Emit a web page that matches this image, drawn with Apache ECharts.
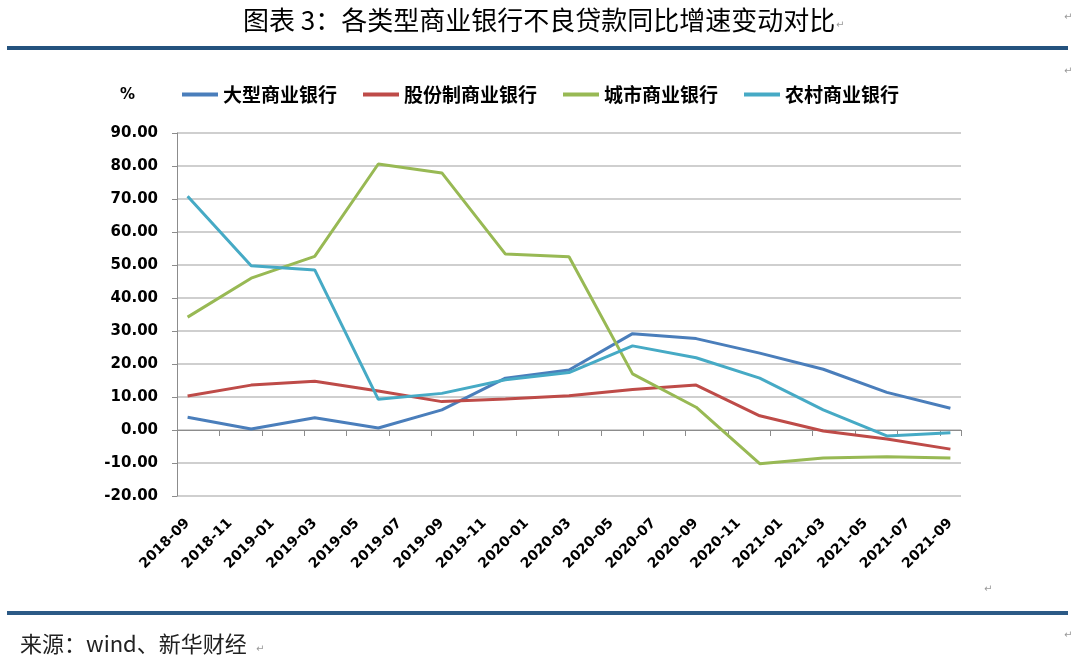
<!DOCTYPE html>
<html>
<head>
<meta charset="utf-8">
<script src="https://cdn.jsdelivr.net/npm/echarts@6/dist/echarts.min.js"></script>
<style>
html,body{margin:0;padding:0;background:#fff;}
#chart{width:1091px;height:666px;}
</style>
</head>
<body>
<div id="chart"></div>
<script>
// Monthly category axis (labels shown every 2 months)
const months = [
  '2018-09','2018-10','2018-11','2018-12','2019-01','2019-02','2019-03','2019-04','2019-05','2019-06',
  '2019-07','2019-08','2019-09','2019-10','2019-11','2019-12','2020-01','2020-02','2020-03','2020-04',
  '2020-05','2020-06','2020-07','2020-08','2020-09','2020-10','2020-11','2020-12','2021-01','2021-02',
  '2021-03','2021-04','2021-05','2021-06','2021-07','2021-08','2021-09'
];
// Quarterly observation dates
const quarters = [
  '2018-09','2018-12','2019-03','2019-06','2019-09','2019-12','2020-03',
  '2020-06','2020-09','2020-12','2021-03','2021-06','2021-09'
];
const seriesNames = ['大型商业银行','股份制商业银行','城市商业银行','农村商业银行'];
const bigBanks   = [3.85, 0.3, 3.7, 0.6, 6.1, 15.7, 18.2, 29.2, 27.7, 23.3, 18.4, 11.4, 6.6];
const jointStock = [10.3, 13.6, 14.8, 11.8, 8.6, 9.4, 10.4, 12.3, 13.6, 4.3, -0.3, -2.7, -5.8];
const cityBanks  = [34.2, 46.0, 52.6, 80.6, 77.9, 53.3, 52.5, 17.0, 6.9, -10.2, -8.5, -8.1, -8.5];
const ruralBanks = [70.8, 49.8, 48.5, 9.3, 11.1, 15.2, 17.4, 25.5, 21.9, 15.7, 6.1, -1.8, -0.8];
const colors = ['#4a7ebb','#be4b48','#98b954','#46aac5'];

const allValues = [bigBanks, jointStock, cityBanks, ruralBanks];
const chart = echarts.init(document.getElementById('chart'));

const series = allValues.map((vals, i) => ({
  name: seriesNames[i],
  type: 'line',
  data: quarters.map((q, k) => [q, vals[k]]),
  showSymbol: false,
  symbol: 'none',
  connectNulls: true,
  lineStyle: { color: colors[i], width: 3 },
  itemStyle: { color: colors[i] },
  animation: false
}));

const retMark = (x, y) => ({
  type: 'text', left: x, top: y,
  style: { text: '↵', fill: '#999', font: '10px "DejaVu Sans"' }
});

chart.setOption({
  animation: false,
  backgroundColor: '#fff',
  grid: { left: 177, right: 130, top: 133, bottom: 170, containLabel: false },
  legend: {
    data: seriesNames,
    left: 182, top: 85,
    padding: 0,
    icon: 'rect',
    itemWidth: 36, itemHeight: 4,
    itemGap: 26,
    textStyle: { fontFamily: '"Noto Sans CJK SC"', fontWeight: 'bold', fontSize: 19, color: '#000' }
  },
  xAxis: [
    {
      type: 'category', data: months, boundaryGap: true, position: 'bottom',
      axisLine: { show: false, onZero: false },
      axisTick: { show: false },
      splitLine: { show: false },
      axisLabel: {
        interval: 1, rotate: 45, margin: 25,
        fontFamily: '"DejaVu Sans"', fontWeight: 'bold', fontSize: 14, color: '#000'
      }
    },
    {
      type: 'category', data: months, boundaryGap: true, position: 'bottom',
      axisLine: { show: true, onZero: true, lineStyle: { color: '#8c8c8c', width: 1 } },
      axisTick: { show: true, interval: 1, length: 6, lineStyle: { color: '#8c8c8c', width: 1 } },
      axisLabel: { show: false },
      splitLine: { show: false }
    }
  ],
  yAxis: {
    type: 'value', min: -20, max: 90, interval: 10,
    axisLine: { show: true, lineStyle: { color: '#8c8c8c', width: 1 } },
    axisTick: { show: true, length: 5, lineStyle: { color: '#8c8c8c' } },
    splitLine: { show: true, lineStyle: { color: '#bfbfbf', width: 1.5 } },
    axisLabel: {
      margin: 19,
      formatter: v => v.toFixed(2),
      fontFamily: '"DejaVu Sans"', fontWeight: 'bold', fontSize: 15, color: '#000'
    }
  },
  series: series,
  graphic: [
    { type: 'text', left: 243, top: 7,
      style: { text: '图表 3：各类型商业银行不良贷款同比增速变动对比', fill: '#000', font: '26px "Noto Sans CJK SC"' } },
    retMark(836, 20),
    retMark(1064, 12),
    retMark(1064, 66),
    retMark(984, 584),
    retMark(1064, 630),
    { type: 'rect', shape: { x: 7, y: 46, width: 1061, height: 4 }, style: { fill: '#24527e' } },
    { type: 'rect', shape: { x: 7, y: 611, width: 1061, height: 4 }, style: { fill: '#2c5a86' } },
    { type: 'text', left: 120, top: 88,
      style: { text: '%', fill: '#000', font: 'bold 15px "DejaVu Sans"' } },
    { type: 'text', left: 20, top: 633,
      style: { text: '来源：wind、新华财经', fill: '#222', font: '22px "Noto Sans CJK SC"' } },
    retMark(256, 644)
  ]
});
</script>
</body>
</html>
